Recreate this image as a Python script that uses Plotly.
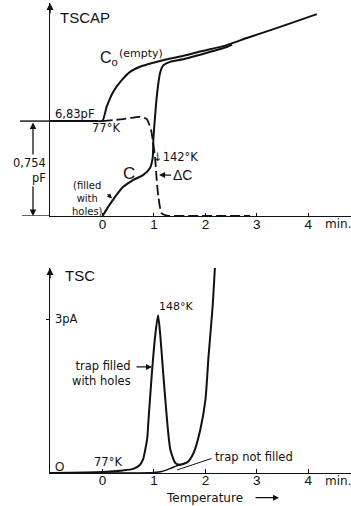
import plotly.graph_objects as go

# ---------------- data: top panel (TSCAP), time in minutes, capacitance in pF ----------------
c0_t = [-1.02, -0.5, -0.1, 0.0, 0.082, 0.21, 0.374, 0.535, 0.73, 0.988, 1.249, 1.508, 1.897, 2.416, 2.805, 3.453, 4.167]
c0_v = [6.83, 6.83, 6.83, 6.832, 6.944, 7.063, 7.155, 7.221, 7.261, 7.293, 7.320, 7.342, 7.382, 7.433, 7.489, 7.578, 7.679]

c_t = [0.0, 0.107, 0.243, 0.399, 0.593, 0.788, 0.924, 0.977, 0.988, 1.021, 1.054, 1.119, 1.177, 1.313, 1.566, 1.897, 2.416, 2.52]
c_v = [6.076, 6.147, 6.227, 6.306, 6.362, 6.401, 6.457, 6.544, 6.679, 6.862, 7.021, 7.211, 7.270, 7.300, 7.320, 7.357, 7.418, 7.437]

dc_t = [0.0, 0.399, 0.73, 0.86, 0.944, 0.977, 1.021, 1.054, 1.086, 1.152, 1.28, 1.6, 2.87]
dc_v = [6.83, 6.846, 6.864, 6.846, 6.759, 6.679, 6.544, 6.362, 6.229, 6.097, 6.078, 6.078, 6.078]

# ---------------- data: bottom panel (TSC), current in pA ----------------
tsc_t = [-1.02, 0.0, 0.4, 0.6, 0.73, 0.79, 0.83, 0.87, 0.89, 0.96, 1.03, 1.08, 1.12, 1.18, 1.26,
         1.32, 1.42, 1.51, 1.65, 1.77, 1.9, 2.0, 2.06, 2.14, 2.19]
tsc_filled = [0.0, 0.02, 0.05, 0.08, 0.16, 0.27, 0.45, 0.68, 0.97, 1.95, 2.73, 3.08, 2.73, 1.95, 0.97,
              0.45, 0.19, 0.16, 0.21, 0.39, 0.84, 1.42, 2.26, 3.24, 4.1]

nf_t = [-1.02, 0.5, 1.0, 1.15, 1.3, 1.42, 1.5, 1.65]
nf_v = [0.0, 0.0, 0.01, 0.03, 0.08, 0.13, 0.16, 0.21]

x_ticks = [0, 1, 2, 3, 4]
x_tick_text = ["0", "1", "2", "3", "4"]

X_RANGE = [-1.02, 4.83]
Y1_RANGE = [6.076, 7.767]
Y2_RANGE = [0.0, 4.0]

FONT = "Liberation Sans, Arial, sans-serif"
WFONT = "DejaVu Sans, Verdana, sans-serif"
BLACK = "#111111"

fig = go.Figure()

line = dict(color=BLACK, width=2)
fig.add_trace(go.Scatter(x=c0_t, y=c0_v, mode="lines", line=dict(**line, shape="spline", smoothing=0.6),
                         xaxis="x", yaxis="y", hoverinfo="skip"))
fig.add_trace(go.Scatter(x=c_t, y=c_v, mode="lines", line=dict(**line, shape="spline", smoothing=0.6),
                         xaxis="x", yaxis="y", hoverinfo="skip"))
fig.add_trace(go.Scatter(x=dc_t, y=dc_v, mode="lines",
                         line=dict(color=BLACK, width=1.8, dash="10px,4px", shape="spline", smoothing=0.6),
                         xaxis="x", yaxis="y", hoverinfo="skip"))
fig.add_trace(go.Scatter(x=tsc_t, y=tsc_filled, mode="lines", line=dict(**line, shape="spline", smoothing=0.6),
                         xaxis="x2", yaxis="y2", hoverinfo="skip"))
fig.add_trace(go.Scatter(x=nf_t, y=nf_v, mode="lines", line=dict(color=BLACK, width=1.5, shape="spline", smoothing=0.6),
                         xaxis="x2", yaxis="y2", hoverinfo="skip"))

axis_common = dict(showgrid=False, zeroline=False, showline=True, linecolor=BLACK, linewidth=1.4)
tickfont = dict(size=13.5, family=FONT, color=BLACK)

fig.update_layout(
    width=351, height=506,
    margin=dict(l=0, r=0, t=0, b=0),
    paper_bgcolor="white", plot_bgcolor="white",
    showlegend=False,
    font=dict(family=FONT, color=BLACK, size=12),
    xaxis=dict(domain=[50/351, 1], range=X_RANGE, anchor="y", tickvals=x_ticks, ticktext=x_tick_text,
               ticks="inside", ticklen=3, tickcolor=BLACK, tickfont=tickfont, ticklabelstandoff=-4,
               **axis_common),
    yaxis=dict(domain=[0.573, 0.994], range=Y1_RANGE, anchor="x", showticklabels=False, ticks="",
               **axis_common),
    xaxis2=dict(domain=[50/351, 1], range=X_RANGE, anchor="y2", tickvals=x_ticks, ticktext=x_tick_text,
                ticks="inside", ticklen=4, tickcolor=BLACK, tickfont=tickfont, ticklabelstandoff=-5,
                **axis_common),
    yaxis2=dict(domain=[0.0652, 0.4704], range=Y2_RANGE, anchor="x2", showticklabels=False,
                tickvals=[3], ticks="outside", ticklen=3, tickcolor=BLACK, **axis_common),
)

# extension lines for the 0,754 pF dimension
fig.add_shape(type="line", xref="paper", yref="y", x0=20/351, x1=50/351, y0=6.83, y1=6.83,
              line=dict(color=BLACK, width=1.4))
fig.add_shape(type="line", xref="paper", yref="y", x0=22/351, x1=50/351, y0=6.076, y1=6.076,
              line=dict(color=BLACK, width=1.4))

ann = []

def txt(text, x, y, xref="x", yref="y", size=12, xanchor="center", yanchor="middle", align="center",
        family=WFONT, **kw):
    ann.append(dict(text=text, x=x, y=y, xref=xref, yref=yref, showarrow=False, xanchor=xanchor,
                    yanchor=yanchor, align=align, font=dict(size=size, family=family, color=BLACK), **kw))

def arrow(x, y, ax, ay, xref="x", yref="y", head=2, size=1.0, width=1.2, **kw):
    ann.append(dict(text="", x=x, y=y, xref=xref, yref=yref, ax=ax, ay=ay, showarrow=True,
                    arrowhead=head, arrowsize=size, arrowwidth=width, arrowcolor=BLACK, **kw))

# axis arrow heads
arrow(X_RANGE[0], Y1_RANGE[1], 0, 12, xref="x", yref="y", width=1.4)
arrow(X_RANGE[0], Y2_RANGE[1], 0, 12, xref="x2", yref="y2", width=1.4)

# top panel labels
txt("TSCAP", -0.86, 7.655, size=15, xanchor="left", family=FONT)
txt("C<sub>o</sub>", -0.08, 7.325, size=16, xanchor="left", family=FONT)
txt("(empty)", 0.28, 7.365, size=11, xanchor="left")
txt("6,83pF", -0.97, 6.885, size=11.5, xanchor="left")
txt("77°K", 0.06, 6.774, size=11.5)
txt("C", 0.506, 6.417, size=17, family=FONT)
txt("(filled<br>with<br>holes)", -0.29, 6.213, size=10)
arrow(0.185, 6.215, -6, -6, head=2, size=0.8, width=1.2)
txt("↓142°K", 0.944, 6.544, size=11.5, xanchor="left")
ann.append(dict(text="ΔC", x=1.10, y=6.401, xref="x", yref="y", ax=23, ay=0, showarrow=True,
                arrowhead=2, arrowsize=1, arrowwidth=1.2, arrowcolor=BLACK,
                font=dict(size=14, family=FONT, color=BLACK)))
# dimension arrow 0,754 pF
ann.append(dict(text="", x=33/351, y=6.076, xref="paper", yref="y", axref="pixel", ax=0, ayref="y", ay=6.83,
                showarrow=True, arrowhead=2, startarrowhead=2, arrowside="end+start", arrowsize=1,
                arrowwidth=1.3, arrowcolor=BLACK))
txt("0,754<br>pF", 48/351, 6.44, xref="paper", yref="y", size=11.5, xanchor="right",
    align="right", bgcolor="white")
txt("min.", 323/351, 0.557, xref="paper", yref="paper", size=12, xanchor="left")

# bottom panel labels
txt("TSC", -0.77, 3.86, xref="x2", yref="y2", size=15, xanchor="left", family=FONT)
txt("3pA", -0.97, 3.0, xref="x2", yref="y2", size=11.5, xanchor="left")
txt("148°K", 1.05, 3.24, xref="x2", yref="y2", size=11, xanchor="left")
txt("O", -0.97, 0.12, xref="x2", yref="y2", size=12, xanchor="left", family=FONT)
txt("77°K", 0.1, 0.21, xref="x2", yref="y2", size=11.5)
txt("trap filled<br>with holes", 0.60, 1.95, xref="x2", yref="y2", size=11.5, xanchor="right", align="right")
arrow(0.963, 2.07, -17, 0, xref="x2", yref="y2", head=2)
txt("trap not filled", 2.14, 0.31, xref="x2", yref="y2", size=11.5, xanchor="left")
arrow(1.45, 0.06, 36, -12, xref="x2", yref="y2", head=0, width=1.0)
txt("min.", 323/351, 0.049, xref="paper", yref="paper", size=12, xanchor="left")
txt("Temperature", 204/351, 0.0165, xref="paper", yref="paper", size=12)
arrow(279/351, 0.0165, -25, 0, xref="paper", yref="paper", head=2, width=1.2)

fig.update_layout(annotations=ann)

fig.write_html("out.html")
